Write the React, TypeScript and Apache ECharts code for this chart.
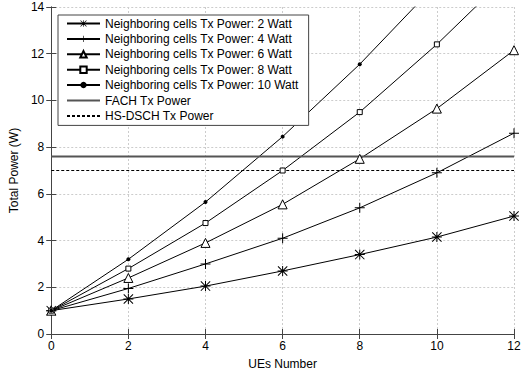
import React, { useEffect, useRef } from "react";
import * as echarts from "echarts";

const ues = [0, 2, 4, 6, 8, 10, 12];
const p2W = [1, 1.5, 2.05, 2.7, 3.4, 4.15, 5.05];
const p4W = [1, 1.95, 3.0, 4.1, 5.4, 6.9, 8.6];
const p6W = [1, 2.4, 3.9, 5.55, 7.5, 9.65, 12.15];
const p8W = [1, 2.8, 4.75, 7.0, 9.5, 12.4, 15.6];
const p10W = [1, 3.2, 5.65, 8.45, 11.55, 15.0, 18.7];
const fachPower = 7.6;
const hsdschPower = 7.0;
const names = [
  "Neighboring cells Tx Power: 2 Watt",
  "Neighboring cells Tx Power: 4 Watt",
  "Neighboring cells Tx Power: 6 Watt",
  "Neighboring cells Tx Power: 8 Watt",
  "Neighboring cells Tx Power: 10 Watt",
  "FACH Tx Power",
  "HS-DSCH Tx Power",
];
const xTicks = [0, 2, 4, 6, 8, 10, 12];

const ASTERISK =
  "path://M4.5,0h1v10h-1zM0,4.5h10v1h-10zM0.7,0L10,9.3L9.3,10L0,0.7zM9.3,0L10,0.7L0.7,10L0,9.3z";
const PLUS = "path://M4.5,0h1v10h-1zM0,4.5h10v1h-10z";

const font = "Liberation Sans, Arial, sans-serif";

export default function App() {
  const ref = useRef<HTMLDivElement>(null);
  useEffect(() => {
    if (!ref.current) return;
    const chart = echarts.init(ref.current, undefined, { renderer: "svg" });
    const pts = (arr: number[]) => arr.map((v, i) => [ues[i], v]);
    const lineSeries = (name: string, arr: number[], symbol: string, size: number, fill: string) => ({
      name,
      type: "line",
      data: pts(arr),
      symbol,
      symbolSize: size,
      showSymbol: true,
      clip: true,
      lineStyle: { color: "#000", width: 1 },
      itemStyle: { color: fill, borderColor: "#000", borderWidth: fill === "#fff" ? 1 : 0 },
      emphasis: { disabled: true },
    });
    const axisCommon = {
      type: "value",
      axisLine: { show: true, lineStyle: { color: "#444", width: 1 } },
      axisTick: { show: true, inside: true, length: 5, lineStyle: { color: "#444" } },
    };
    chart.setOption({
      animation: false,
      backgroundColor: "#fff",
      textStyle: { fontFamily: font },
      grid: { left: 48, right: 12, top: 7, bottom: 34 },
      legend: {
        left: 58,
        top: 15,
        orient: "vertical",
        selectedMode: false,
        backgroundColor: "#fff",
        borderColor: "#444",
        borderWidth: 1,
        borderRadius: 0,
        padding: [2, 10, 3, 8],
        itemWidth: 33,
        itemHeight: 8,
        itemGap: 2.4,
        textStyle: { fontSize: 12, color: "#000", fontFamily: font, lineHeight: 13 },
        data: names,
      },
      xAxis: [
        {
          ...axisCommon,
          min: 0,
          max: 12,
          interval: 2,
          position: "bottom",
          name: "UEs Number",
          nameLocation: "middle",
          nameGap: 24,
          nameTextStyle: { fontSize: 12, color: "#000", fontFamily: font },
          axisLabel: {
            fontSize: 12,
            color: "#000",
            margin: 6,
            formatter: (v: number) => (xTicks.includes(v) ? String(v) : ""),
          },
          splitLine: { show: true, lineStyle: { color: "#ccc", type: [2, 2], width: 1 } },
        },
        {
          ...axisCommon,
          min: 0,
          max: 12,
          interval: 2,
          position: "top",
          axisLabel: { show: false },
          splitLine: { show: false },
        },
      ],
      yAxis: [
        {
          ...axisCommon,
          min: 0,
          max: 14,
          interval: 2,
          position: "left",
          name: "Total Power (W)",
          nameLocation: "middle",
          nameGap: 25,
          nameTextStyle: { fontSize: 12, color: "#000", fontFamily: font },
          axisLabel: { fontSize: 12, color: "#000", margin: 7 },
          splitLine: { show: true, lineStyle: { color: "#ccc", type: [2, 2], width: 1 } },
        },
        {
          ...axisCommon,
          min: 0,
          max: 14,
          interval: 2,
          position: "right",
          axisLabel: { show: false },
          splitLine: { show: false },
        },
      ],
      series: [
        lineSeries(names[0], p2W, ASTERISK, 10, "#000"),
        lineSeries(names[1], p4W, PLUS, 10, "#000"),
        lineSeries(names[2], p6W, "triangle", 9, "#fff"),
        lineSeries(names[3], p8W, "rect", 5, "#fff"),
        lineSeries(names[4], p10W, "circle", 4, "#000"),
        {
          name: names[5],
          type: "line",
          data: [[0, fachPower], [12, fachPower]],
          symbol: "circle",
          showSymbol: false,
          lineStyle: { color: "#555", width: 2 },
          itemStyle: { color: "rgba(0,0,0,0)", borderWidth: 0 },
          emphasis: { disabled: true },
        },
        {
          name: names[6],
          type: "line",
          data: [[0, hsdschPower], [12, hsdschPower]],
          symbol: "circle",
          showSymbol: false,
          lineStyle: { color: "#000", width: 1, type: [3, 2] },
          itemStyle: { color: "rgba(0,0,0,0)", borderWidth: 0 },
          emphasis: { disabled: true },
        },
      ],
    });
    return () => chart.dispose();
  }, []);
  return <div ref={ref} style={{ width: 526, height: 375, position: "absolute", left: 0, top: 0 }} />;
}
